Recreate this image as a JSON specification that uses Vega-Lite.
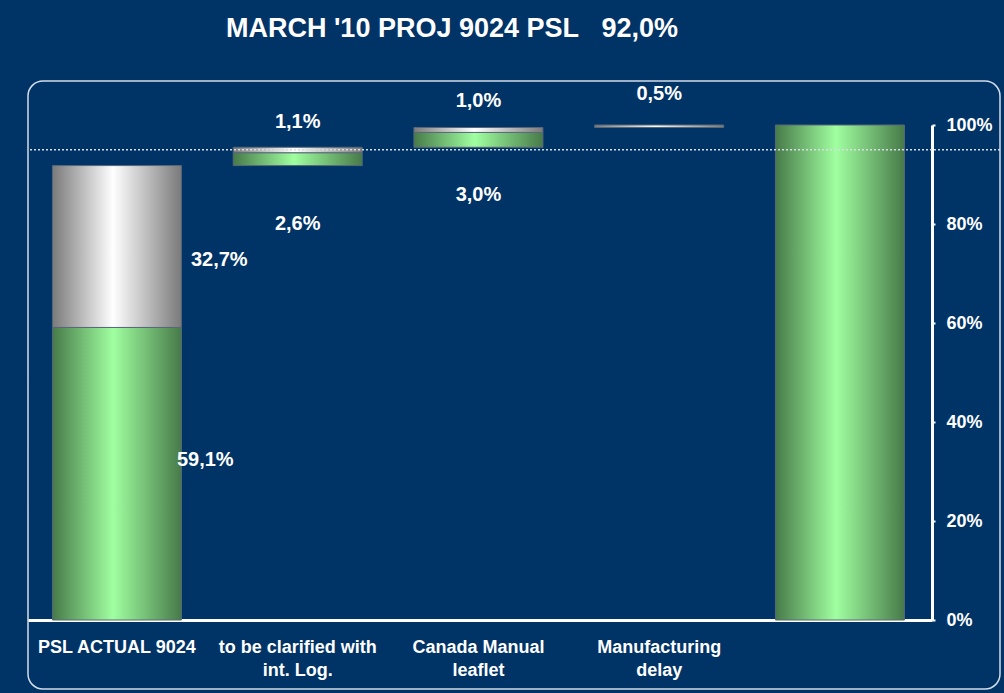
{
  "$schema": "https://vega.github.io/schema/vega-lite/v6.json",
  "autosize": {"type": "none"},
  "width": 972,
  "height": 608,
  "padding": {"left": 28, "top": 81, "right": 4, "bottom": 4},
  "background": "#003366",
  "title": {
    "text": "MARCH '10 PROJ 9024 PSL\u00a0\u00a0\u00a092,0%",
    "color": "white",
    "font": "Liberation Sans",
    "fontWeight": "bold",
    "fontSize": 27,
    "anchor": "middle",
    "dx": -62,
    "baseline": "alphabetic",
    "offset": 17
  },
  "config": {
    "view": {"stroke": "#d3dce8", "strokeWidth": 1.5, "cornerRadius": 15, "fill": null},
    "axis": {"grid": false}
  },
  "datasets": {
    "bars": [
      {"cat": "PSL ACTUAL 9024", "seg": "green", "start": 0, "end": 59.1},
      {"cat": "PSL ACTUAL 9024", "seg": "white", "start": 59.1, "end": 91.8},
      {"cat": "to be clarified with int. Log.", "seg": "green", "start": 91.8, "end": 94.4},
      {"cat": "to be clarified with int. Log.", "seg": "white", "start": 94.4, "end": 95.5},
      {"cat": "Canada Manual leaflet", "seg": "green", "start": 95.5, "end": 98.5},
      {"cat": "Canada Manual leaflet", "seg": "white", "start": 98.5, "end": 99.5},
      {"cat": "Manufacturing delay", "seg": "white", "start": 99.5, "end": 100},
      {"cat": "Total", "seg": "green", "start": 0, "end": 100}
    ],
    "labels": [
      {"cat": "PSL ACTUAL 9024", "seg": "green", "text": "59,1%", "at": 32.3},
      {"cat": "PSL ACTUAL 9024", "seg": "white", "text": "32,7%", "at": 72.7},
      {"cat": "to be clarified with int. Log.", "seg": "green", "text": "2,6%", "at": 79.9},
      {"cat": "to be clarified with int. Log.", "seg": "white", "text": "1,1%", "at": 100.6},
      {"cat": "Canada Manual leaflet", "seg": "green", "text": "3,0%", "at": 85.9},
      {"cat": "Canada Manual leaflet", "seg": "white", "text": "1,0%", "at": 104.9},
      {"cat": "Manufacturing delay", "seg": "white", "text": "0,5%", "at": 106.2}
    ],
    "ref": [{"level": 95}]
  },
  "encoding": {
    "x": {
      "field": "cat",
      "type": "nominal",
      "sort": null,
      "scale": {
        "domain": ["PSL ACTUAL 9024", "to be clarified with int. Log.", "Canada Manual leaflet", "Manufacturing delay", "Total"],
        "range": [0, 904],
        "paddingInner": 0.2863,
        "paddingOuter": 0.1439,
        "align": 0.47
      },
      "axis": {
        "title": null,
        "orient": "bottom",
        "offset": -69,
        "domain": true,
        "domainColor": "white",
        "domainWidth": 3,
        "ticks": false,
        "tickSize": 0,
        "labelAngle": 0,
        "labelPadding": 18,
        "labelBaseline": "top",
        "labelAlign": "center",
        "labelColor": "white",
        "labelFont": "Liberation Sans",
        "labelFontWeight": "bold",
        "labelFontSize": 18,
        "labelLineHeight": 23,
        "labelLimit": 0,
        "labelOverlap": false,
        "labelExpr": "datum.label == 'to be clarified with int. Log.' ? ['to be clarified with', 'int. Log.'] : datum.label == 'Canada Manual leaflet' ? ['Canada Manual', 'leaflet'] : datum.label == 'Manufacturing delay' ? ['Manufacturing', 'delay'] : datum.label == 'Total' ? '' : datum.label"
      }
    }
  },
  "layer": [
    {
      "data": {"name": "bars"},
      "transform": [{"filter": "datum.seg == 'green'"}],
      "mark": {
        "type": "bar",
        "fill": {"gradient": "linear", "x1": 0, "x2": 1, "y1": 0, "y2": 0,
          "stops": [{"offset": 0, "color": "#477a49"}, {"offset": 0.47, "color": "#a0ffa0"}, {"offset": 1, "color": "#477a49"}]},
        "stroke": "#56687a",
        "strokeWidth": 1
      },
      "encoding": {
        "y": {
          "field": "start", "type": "quantitative",
          "scale": {"domain": [0, 100], "range": [539, 44], "nice": false, "zero": true},
          "axis": {
            "title": null,
            "orient": "right",
            "offset": -68,
            "values": [0, 20, 40, 60, 80, 100],
            "domain": true,
            "domainColor": "white",
            "domainWidth": 3,
            "ticks": true,
            "tickColor": "white",
            "tickSize": 3,
            "tickWidth": 2,
            "labelPadding": 11,
            "labelColor": "white",
            "labelFont": "Liberation Sans",
            "labelFontWeight": "bold",
            "labelFontSize": 18,
            "labelExpr": "datum.value + '%'"
          }
        },
        "y2": {"field": "end"}
      }
    },
    {
      "data": {"name": "bars"},
      "transform": [{"filter": "datum.seg == 'white'"}],
      "mark": {
        "type": "bar",
        "fill": {"gradient": "linear", "x1": 0, "x2": 1, "y1": 0, "y2": 0,
          "stops": [{"offset": 0, "color": "#7a7a7a"}, {"offset": 0.47, "color": "#ffffff"}, {"offset": 1, "color": "#7a7a7a"}]},
        "stroke": "#56687a",
        "strokeWidth": 1
      },
      "encoding": {
        "y": {"field": "start", "type": "quantitative"},
        "y2": {"field": "end"}
      }
    },
    {
      "data": {"name": "ref"},
      "mark": {"type": "rule", "color": "#d8dde4", "strokeWidth": 1.5, "strokeDash": [2, 2]},
      "encoding": {"y": {"field": "level", "type": "quantitative"}, "x": null}
    },
    {
      "data": {"name": "labels"},
      "transform": [{"filter": "datum.cat == 'PSL ACTUAL 9024' && datum.seg == 'green'"}],
      "mark": {"type": "text", "align": "left", "baseline": "middle", "dx": 60, "color": "white", "font": "Liberation Sans", "fontWeight": "bold", "fontSize": 20},
      "encoding": {"y": {"field": "at", "type": "quantitative"}, "text": {"field": "text"}}
    },
    {
      "data": {"name": "labels"},
      "transform": [{"filter": "datum.cat == 'PSL ACTUAL 9024' && datum.seg == 'white'"}],
      "mark": {"type": "text", "align": "left", "baseline": "middle", "dx": 74, "color": "white", "font": "Liberation Sans", "fontWeight": "bold", "fontSize": 20},
      "encoding": {"y": {"field": "at", "type": "quantitative"}, "text": {"field": "text"}}
    },
    {
      "data": {"name": "labels"},
      "transform": [{"filter": "datum.cat != 'PSL ACTUAL 9024'"}],
      "mark": {"type": "text", "align": "center", "baseline": "middle", "color": "white", "font": "Liberation Sans", "fontWeight": "bold", "fontSize": 20},
      "encoding": {"y": {"field": "at", "type": "quantitative"}, "text": {"field": "text"}}
    }
  ]
}
